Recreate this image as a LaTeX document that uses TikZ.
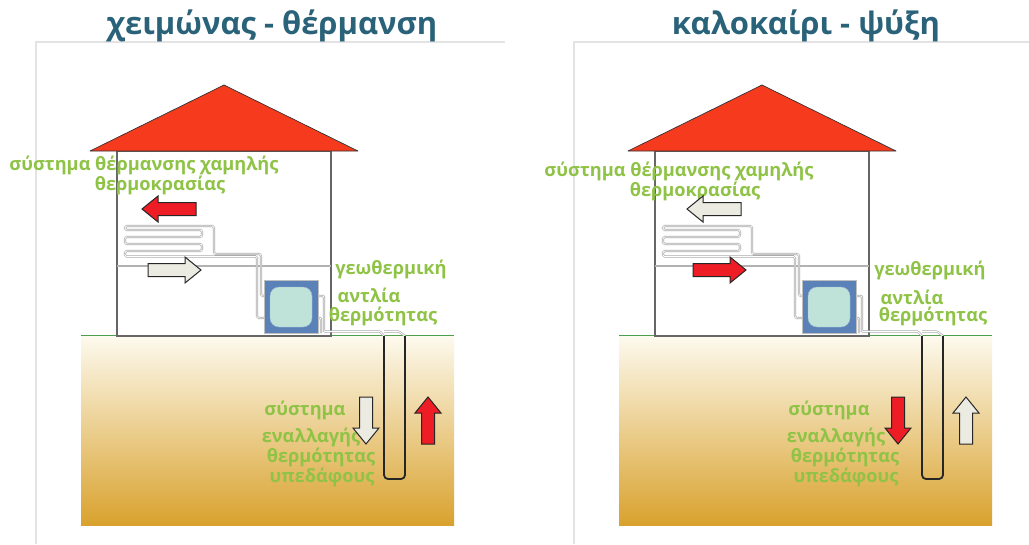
\documentclass[tikz,border=0pt]{standalone}
\usepackage{fontspec}
\setmainfont{Open Sans}
\definecolor{titleblue}{HTML}{2A6379}
\definecolor{labelgreen}{HTML}{8FC346}
\definecolor{roofred}{HTML}{F53A1E}
\definecolor{arrowred}{HTML}{EE1C25}
\definecolor{arrowcream}{HTML}{ECEBE2}
\definecolor{pumpblue}{HTML}{5B82B8}
\definecolor{pumpglass}{HTML}{BFE3D8}
\definecolor{soilgold}{HTML}{D9A22E}
\definecolor{soilmid}{HTML}{EFD68F}
\definecolor{soiltop}{HTML}{FDFAEF}
\definecolor{pipegrey}{HTML}{ABABAB}
\tikzset{
  titletext/.style={font=\fontsize{31}{33}\selectfont\bfseries,text=titleblue,inner sep=0pt},
  greentext/.style={font=\fontsize{18.2}{20}\selectfont\bfseries,text=labelgreen,inner sep=0pt},
  framerule/.style={draw=black!11,line width=1.2pt},
  wall/.style={draw=black!60,line width=1.6pt},
  tube/.style={draw=white,line width=0.9pt,line join=round,rounded corners=1pt,
    preaction={draw=pipegrey,line width=2.2pt}},
}
% Block arrow: tail centre at (#1,#2), pointing along angle #3, total length #4
\newcommand{\blockarrow}[5]{%
  \draw[shift={(#1,#2)},rotate=#3,x=1pt,y=1pt,fill=#5,draw=black!85,line width=1pt,line join=miter]
    (0,-6.5) -- (#4-16,-6.5) -- (#4-16,-13) -- (#4,0) -- (#4-16,13) -- (#4-16,6.5) -- (0,6.5) -- cycle;}
% House, ground, heat pump and pipework, placed by the enclosing scope
\newcommand{\installation}{%
  \draw[framerule] (505,42) -- (36,42) -- (36,544);
  \shade[top color=soiltop,middle color=soilmid,bottom color=soilgold] (81,335) rectangle (454,525);
  \draw[draw=green!45!black!70,line width=0.8pt] (81,335) -- (454,335);
  \draw[wall,fill=white] (117,151) rectangle (331,336);
  \draw[draw=black!30,line width=1.3pt] (117,266) -- (331,266);
  \fill[roofred,draw=black!80,line width=0.7pt,line join=round] (224,85) -- (358,151) -- (90,151) -- cycle;
  % floor coil: one serpentine with its supply and return legs
  \draw[tube,rounded corners=1.6pt] (265,296) -- (261,296) -- (261,254) -- (214,254) -- (214,226) -- (125,226)
    -- (125,230) -- (202,230) -- (202,237) -- (125,237) -- (125,244) -- (202,244) -- (202,251)
    -- (125,251) -- (125,256.5) -- (257,256.5) -- (257,318) -- (265,318);
  % heat pump
  \fill[pumpblue,draw=black!25,line width=0.6pt] (264,280) rectangle (318,333);
  \fill[pumpglass,draw=pumpblue!60,rounded corners=9pt] (270,287) rectangle (312,327);
  % outlet pipes down to the borehole
  \draw[tube] (318,296) -- (324,296) -- (324,331.5) -- (380,331.5) -- (384,336);
  \draw[tube] (318,318) -- (321,318) -- (321,333);
  \draw[tube] (384,331.5) -- (399,331.5) -- (405,336);
  % borehole loop
  \draw[draw=black!85,line width=1.8pt,rounded corners=4pt] (384,336) -- (384,479) -- (405,479) -- (405,336);
}
\begin{document}
\begin{tikzpicture}[x=1pt,y=-1pt]
\useasboundingbox (0,0) rectangle (1029,544);
\fill[white] (0,0) rectangle (1029,544);

% Winter: heating
\begin{scope}\installation\end{scope}
\node[titletext] (wtitle) at (272,26) {χειμώνας - θέρμανση};
\node[greentext] (wsys1) at (144,165) {σύστημα θέρμανσης χαμηλής};
\node[greentext] (wsys2) at (160,185) {θερμοκρασίας};
\node[greentext] (wgeo1) at (391,269) {γεωθερμική};
\node[greentext] (wgeo2) at (369,295) {αντλία};
\node[greentext] (wgeo3) at (383,316) {θερμότητας};
\node[greentext] (wgr1) at (305,410) {σύστημα};
\node[greentext] (wgr2) at (311,437) {εναλλαγής};
\node[greentext] (wgr3) at (321,457) {θερμότητας};
\node[greentext] (wgr4) at (322,477) {υπεδάφους};
\blockarrow{196}{209}{180}{54}{arrowred}
\blockarrow{148}{270}{0}{53}{arrowcream}
\blockarrow{366}{397}{-90}{47}{arrowcream}
\blockarrow{428}{444}{90}{47}{arrowred}

% Summer: cooling
\begin{scope}[xshift=538pt]\installation\end{scope}
\node[titletext] (stitle) at (806,26) {καλοκαίρι - ψύξη};
\node[greentext] (ssys1) at (679,171) {σύστημα θέρμανσης χαμηλής};
\node[greentext] (ssys2) at (695,191) {θερμοκρασίας};
\node[greentext] (sgeo1) at (930,270) {γεωθερμική};
\node[greentext] (sgeo2) at (912,297) {αντλία};
\node[greentext] (sgeo3) at (933,316) {θερμότητας};
\node[greentext] (sgr1) at (829,410) {σύστημα};
\node[greentext] (sgr2) at (836,437) {εναλλαγής};
\node[greentext] (sgr3) at (845,457) {θερμότητας};
\node[greentext] (sgr4) at (846,477) {υπεδάφους};
\blockarrow{741}{209}{180}{54}{arrowcream}
\blockarrow{693}{270}{0}{53}{arrowred}
\blockarrow{898}{397}{-90}{47}{arrowred}
\blockarrow{966}{444}{90}{47}{arrowcream}
\end{tikzpicture}
\end{document}
